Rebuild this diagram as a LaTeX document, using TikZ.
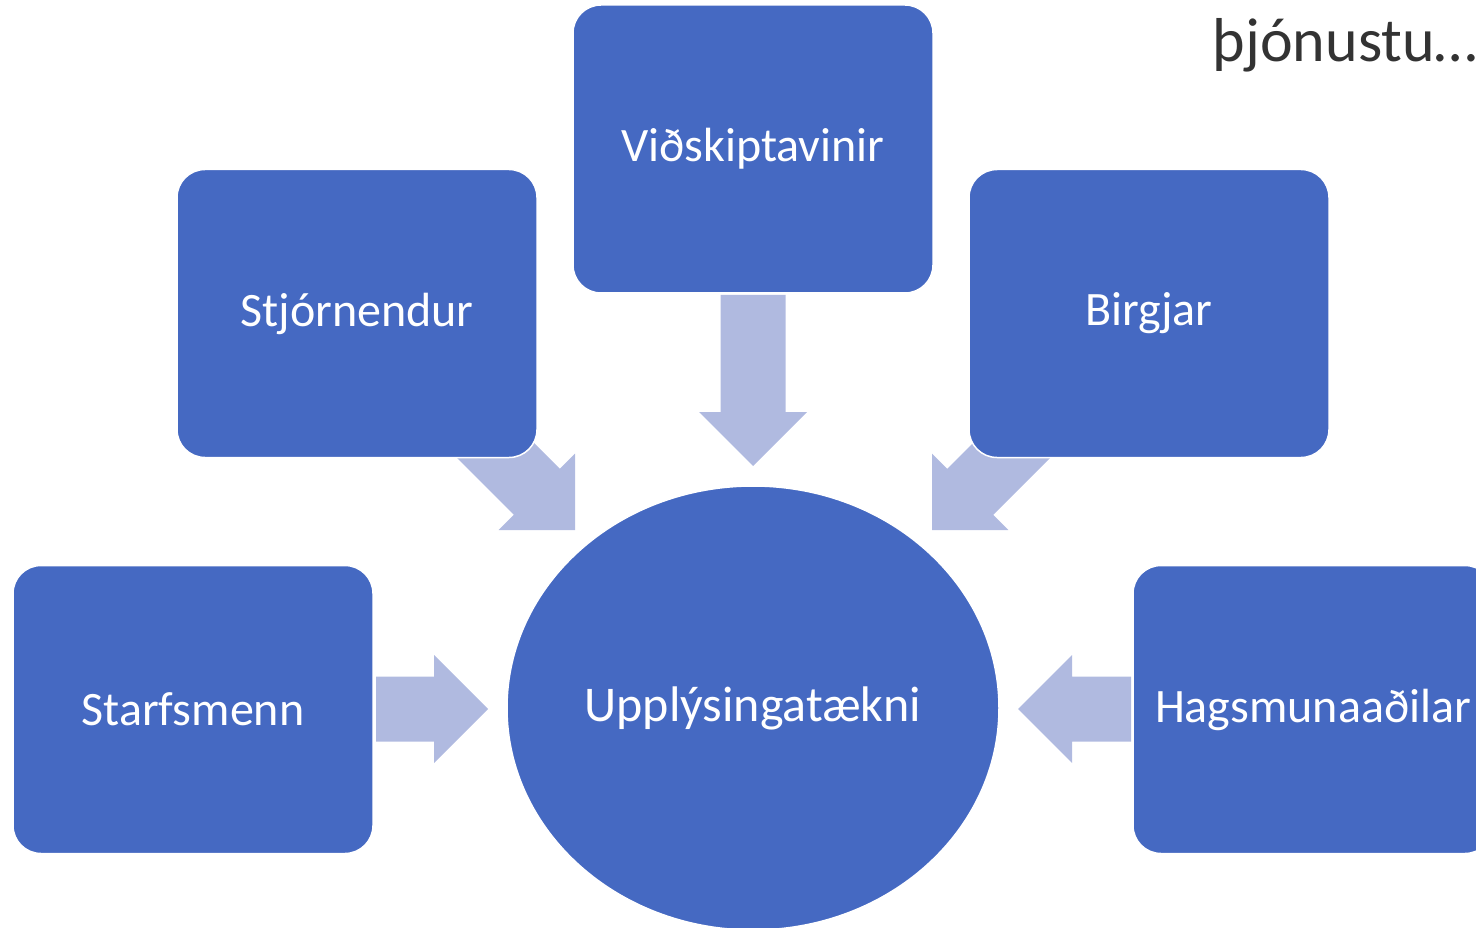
\documentclass[tikz,border=0pt]{standalone}
\usepackage{fontspec}
\setmainfont{Carlito}
\usetikzlibrary{shapes.geometric}
\definecolor{boxblue}{HTML}{4569C2}
\definecolor{arrowblue}{HTML}{B0BAE0}
\definecolor{textgray}{HTML}{333333}
\begin{document}
\begin{tikzpicture}[x=1pt,y=-1pt,
  box/.style={rectangle, rounded corners=28pt, fill=boxblue, draw=white, line width=1.5pt,
    minimum width=360pt, minimum height=288pt, inner sep=0pt, text=white, font=\fontsize{48}{54}\selectfont},
  hub/.style={ellipse, fill=boxblue, draw=white, line width=1.5pt,
    minimum width=492pt, minimum height=444pt, inner sep=0pt, text=white, font=\fontsize{50}{56}\selectfont},
  blockarrow/.style={fill=arrowblue, draw=none}]
\useasboundingbox (0,0) rectangle (1476,928);
% block arrows (drawn first, boxes overlap their tails)
\fill[blockarrow] (753,466) -- (807,412) -- (785.5,412) -- (785.5,295) -- (720.5,295) -- (720.5,412) -- (699,412) -- cycle;
\fill[blockarrow] (488,709) -- (434,763) -- (434,741.5) -- (376,741.5) -- (376,676.5) -- (434,676.5) -- (434,655) -- cycle;
\fill[blockarrow] (1018,709) -- (1072,763) -- (1072,741.5) -- (1131,741.5) -- (1131,676.5) -- (1072,676.5) -- (1072,655) -- cycle;
\fill[blockarrow] (575,530) -- (575,453.6) -- (559.8,468.8) -- (484.9,393.9) -- (438.9,439.9) -- (513.8,514.8) -- (498.6,530) -- cycle;
\fill[blockarrow] (932,530) -- (932,453.6) -- (947.2,468.8) -- (1022.1,393.9) -- (1068.1,439.9) -- (993.2,514.8) -- (1008.4,530) -- cycle;
% nodes
\node[box] (vid) at (753,149) {Viðskiptavinir};
\node[box] (stj) at (357,313.5) {Stjórnendur};
\node[box] (bir) at (1149,313.5) {Birgjar};
\node[box] (sta) at (193,709.5) {Starfsmenn};
\node[box] (hag) at (1313,709.5) {Hagsmunaaðilar};
\node[hub] (upp) at (753,708) {Upplýsingatækni};
\node[anchor=base east, text=textgray, font=\fontsize{62}{70}\selectfont, inner sep=0pt] (thj) at (1478,62) {þjónustu…};
\end{tikzpicture}
\end{document}
